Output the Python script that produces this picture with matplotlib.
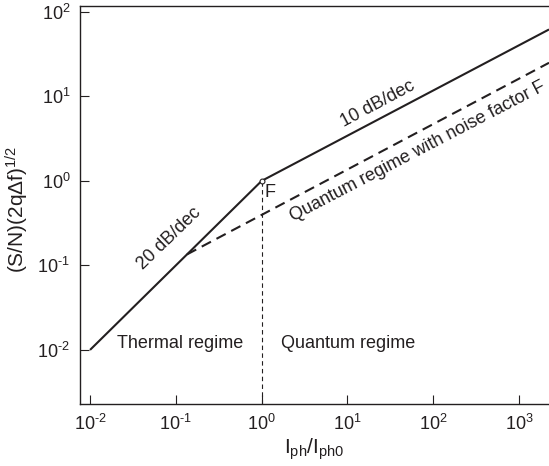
import numpy as np
import matplotlib as mpl
mpl.use('Agg')
import matplotlib.pyplot as plt
from matplotlib.ticker import FuncFormatter

plt.rcParams['font.family'] = ['Liberation Sans', 'DejaVu Sans']
plt.rcParams['mathtext.fontset'] = 'custom'
plt.rcParams['mathtext.rm'] = 'Liberation Sans'
plt.rcParams['mathtext.it'] = 'Liberation Sans:italic'
plt.rcParams['axes.unicode_minus'] = False

# Solid asymptote: 20 dB/dec (thermal) then 10 dB/dec (quantum)
solid_x = [0.01, 1.0, 2240.0]
solid_y = [0.01, 1.0, 62.0]

# Dashed: quantum regime with noise factor F
dash_x = [0.135, 2240.0]
dash_y = [0.135, 25.0]

# Crossover point
knee_x = 1.0
knee_y = 1.0

xticks = [1e-2, 1e-1, 1e0, 1e1, 1e2, 1e3]
yticks = [1e-2, 1e-1, 1e0, 1e1, 1e2]

xlim = (10**-2.117, 10**3.35)
ylim = (10**-2.64, 10**2.07)

fg = '#231f20'


def pow10(v, pos):
    e = int(round(np.log10(v)))
    return r'10$^{\text{%d}}$' % e


fig = plt.figure(figsize=(5.49, 4.66), dpi=100)
ax = fig.add_axes([80/549, 62/466, 469/549, 398/466])

ax.plot(solid_x, solid_y, color=fg, lw=1.5, solid_capstyle='butt')
ax.plot(dash_x, dash_y, color=fg, lw=1.5, dashes=(5, 3))
ax.plot([knee_x, knee_x], [ylim[0], knee_y], color=fg, lw=0.8, dashes=(4, 3))
ax.plot([knee_x], [knee_y], marker='o', ms=3.5, mfc='white', mec=fg, mew=0.8)

ax.set_xscale('log')
ax.set_yscale('log')
ax.set_xlim(*xlim)
ax.set_ylim(*ylim)
ax.set_xticks(xticks)
ax.set_yticks(yticks)
ax.minorticks_off()
ax.xaxis.set_major_formatter(FuncFormatter(pow10))
ax.yaxis.set_major_formatter(FuncFormatter(pow10))
ax.tick_params(direction='in', length=6.5, width=0.8, labelsize=13,
               colors=fg, pad=7)
ax.spines['right'].set_visible(False)
for s in ['left', 'bottom', 'top']:
    ax.spines[s].set_color(fg)
    ax.spines[s].set_linewidth(1.0)

ax.set_xlabel(r'I$_{\rm ph}$/I$_{\rm ph0}$', fontsize=15, color=fg)
ax.set_ylabel(r'(S/N)(2q$\Delta$f)$^{1/2}$', fontsize=15, color=fg)
ax.xaxis.set_label_coords(0.5, -0.082)
ax.yaxis.set_label_coords(-0.105, 0.49)

tk = dict(fontsize=13, color=fg, ha='center', va='center')
ax.text(0.083, 0.21, '20 dB/dec', rotation=44, **tk)
ax.text(22.7, 8.1, '10 dB/dec', rotation=28, **tk)
ax.text(66, 2.2, 'Quantum regime with noise factor F', rotation=27.5, **tk)
ax.text(1.25, 0.72, 'F', **tk)
ax.text(0.112, 0.0118, 'Thermal regime', **tk)
ax.text(10.2, 0.0118, 'Quantum regime', **tk)

fig.savefig('out.png', dpi=100)
